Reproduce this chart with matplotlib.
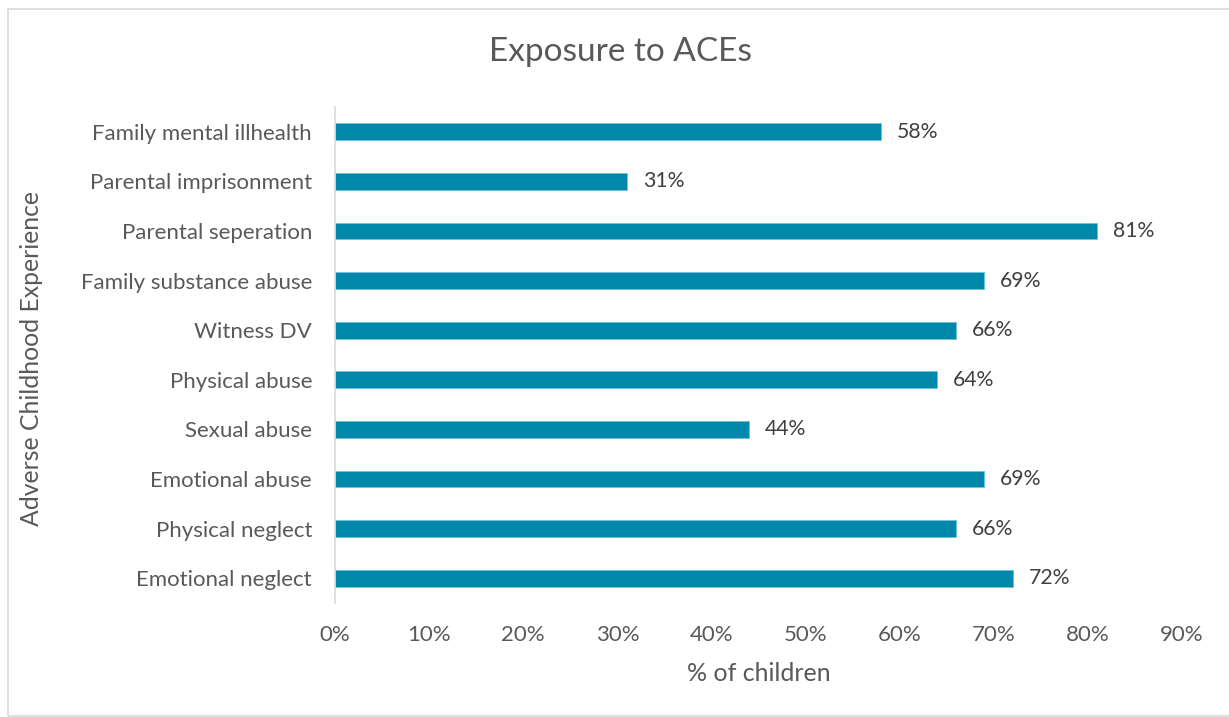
import matplotlib
matplotlib.use("Agg")
import matplotlib.pyplot as plt
from matplotlib.patches import Rectangle
from matplotlib.ticker import FuncFormatter, MultipleLocator

categories = [
    "Emotional neglect",
    "Physical neglect",
    "Emotional abuse",
    "Sexual abuse",
    "Physical abuse",
    "Witness DV",
    "Family substance abuse",
    "Parental seperation",
    "Parental imprisonment",
    "Family mental illhealth",
]
values = [72, 66, 69, 44, 64, 66, 69, 81, 31, 58]

plt.rcParams["font.family"] = ["Lato", "DejaVu Sans"]

fig = plt.figure(figsize=(12.29, 7.17), dpi=100)
fig.patches.append(Rectangle((8 / 1229, 0.002), 1.0, 1 - 9 / 717 - 0.002,
                             transform=fig.transFigure, fill=False,
                             edgecolor="#d9d9d9", linewidth=1.2))

ax = fig.add_axes([335 / 1229, 1 - 603 / 717, (1182 - 335) / 1229, (603 - 107) / 717])
y = range(len(categories))
ax.barh(y, values, height=0.34, color="#0088AA", edgecolor="#6fc0d6", linewidth=0.6)

for yi, v in zip(y, values):
    ax.text(v + 1.7, yi, f"{v}%", va="center", ha="left", fontsize=15.3, color="#404040")

ax.set_xlim(0, 90)
ax.set_ylim(-0.5, len(categories) - 0.5)
ax.xaxis.set_major_locator(MultipleLocator(10))
ax.xaxis.set_major_formatter(FuncFormatter(lambda v, p: f"{v:.0f}%"))
ax.set_yticks(list(y))
ax.set_yticklabels(categories)
ax.tick_params(axis="both", length=0, labelsize=16, labelcolor="#595959")
ax.tick_params(axis="x", pad=16)
ax.tick_params(axis="y", pad=16.5)
for s in ["top", "right", "bottom"]:
    ax.spines[s].set_visible(False)
ax.spines["left"].set_color("#d9d9d9")
ax.spines["left"].set_linewidth(1.2)

ax.set_xlabel("% of children", fontsize=18, color="#595959", labelpad=12)
ax.yaxis.set_label_coords(32 / 1229, 0.5, transform=fig.transFigure)
ax.set_ylabel("Adverse Childhood Experience", fontsize=17.8, color="#595959",
              va="center")
fig.text(620 / 1229, 1 - 52 / 717, "Exposure to ACEs", ha="center", va="center",
         fontsize=24, color="#595959")

fig.savefig("out.png", dpi=100)
